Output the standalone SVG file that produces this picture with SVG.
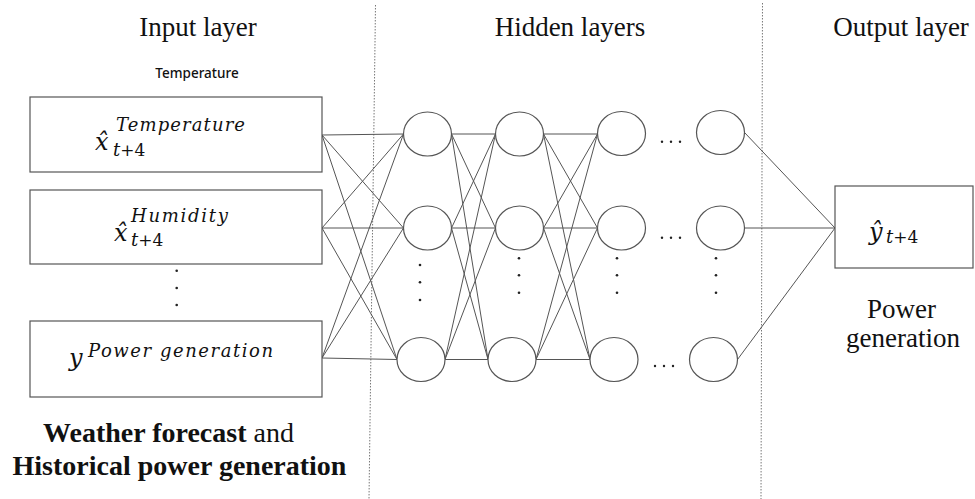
<svg xmlns="http://www.w3.org/2000/svg" width="975" height="499" viewBox="0 0 975 499">
<style>
.hd{font-family:"Liberation Serif","Times New Roman",serif;font-size:27px;fill:#111;text-anchor:middle}
.box{fill:#fff;stroke:#555;stroke-width:1.2}
.nd{fill:#fff;stroke:#555;stroke-width:1.2}
.mm{font-family:"DejaVu Serif","Liberation Serif",serif;font-style:italic;font-size:24px;fill:#111}
.ms{font-family:"DejaVu Serif","Liberation Serif",serif;font-style:italic;font-size:18px;fill:#111}
.mn{font-family:"DejaVu Serif","Liberation Serif",serif;font-style:normal;font-size:17px;fill:#111}
.sep{stroke:#777;stroke-width:1;stroke-dasharray:1.5 1.5;fill:none}
.ed line{stroke:#555;stroke-width:1}
.dot{fill:#222}
</style>

<g id="separators">
<line class="sep" x1="375.5" y1="5" x2="369" y2="499"/>
<line class="sep" x1="762.5" y1="3" x2="761" y2="499"/>
</g>

<g id="titles">
<text class="hd" x="198" y="36">Input layer</text>
<text class="hd" x="570" y="36">Hidden layers</text>
<text class="hd" x="901" y="36">Output layer</text>
<text x="197" y="78" style="font-family:'Noto Sans',sans-serif;font-size:13.5px;font-weight:500;fill:#111;text-anchor:middle">Temperature</text>
</g>

<g id="connectors" class="ed">
<line x1="322" y1="135" x2="403.5" y2="134"/>
<line x1="322" y1="135" x2="403.5" y2="228"/>
<line x1="322" y1="135" x2="397" y2="359.5"/>
<line x1="322" y1="228" x2="403.5" y2="134"/>
<line x1="322" y1="228" x2="403.5" y2="228"/>
<line x1="322" y1="228" x2="397" y2="359.5"/>
<line x1="322" y1="358" x2="403.5" y2="134"/>
<line x1="322" y1="358" x2="403.5" y2="228"/>
<line x1="322" y1="358" x2="397" y2="359.5"/>
<line x1="451.5" y1="134" x2="495.5" y2="134"/>
<line x1="451.5" y1="134" x2="495.5" y2="228"/>
<line x1="451.5" y1="134" x2="488" y2="359.5"/>
<line x1="451.5" y1="228" x2="495.5" y2="134"/>
<line x1="451.5" y1="228" x2="495.5" y2="228"/>
<line x1="451.5" y1="228" x2="488" y2="359.5"/>
<line x1="445" y1="359.5" x2="495.5" y2="134"/>
<line x1="445" y1="359.5" x2="495.5" y2="228"/>
<line x1="445" y1="359.5" x2="488" y2="359.5"/>
<line x1="543.5" y1="134" x2="597.5" y2="134"/>
<line x1="543.5" y1="134" x2="597.5" y2="228"/>
<line x1="543.5" y1="134" x2="590" y2="359.5"/>
<line x1="543.5" y1="228" x2="597.5" y2="134"/>
<line x1="543.5" y1="228" x2="597.5" y2="228"/>
<line x1="543.5" y1="228" x2="590" y2="359.5"/>
<line x1="536" y1="359.5" x2="597.5" y2="134"/>
<line x1="536" y1="359.5" x2="597.5" y2="228"/>
<line x1="536" y1="359.5" x2="590" y2="359.5"/>
<line x1="744.5" y1="132.5" x2="835" y2="228"/>
<line x1="744.5" y1="228" x2="835" y2="228"/>
<line x1="737.5" y1="359.5" x2="835" y2="228"/>
</g>

<g id="in-temperature">
<rect class="box" x="30" y="97" width="292" height="75"/>
<text class="mm" x="95" y="150">x̂</text>
<text class="ms" x="116" y="131" textLength="129" lengthAdjust="spacing">Temperature</text>
<text x="113" y="156"><tspan class="ms">t</tspan><tspan class="mn">+4</tspan></text>
</g>

<g id="in-humidity">
<rect class="box" x="30" y="190" width="292" height="74"/>
<text class="mm" x="114" y="241">x̂</text>
<text class="ms" x="131" y="222" textLength="97" lengthAdjust="spacing">Humidity</text>
<text x="131" y="246"><tspan class="ms">t</tspan><tspan class="mn">+4</tspan></text>
</g>

<g id="in-dots">
<circle class="dot" cx="176.7" cy="270.7" r="1.3"/>
<circle class="dot" cx="176.7" cy="288" r="1.3"/>
<circle class="dot" cx="176.7" cy="305" r="1.3"/>
</g>

<g id="in-power">
<rect class="box" x="30" y="321" width="292" height="76"/>
<text class="mm" x="69" y="366">y</text>
<text class="ms" x="88" y="357" textLength="185" lengthAdjust="spacing">Power generation</text>
</g>

<g id="in-caption">
<text x="168.5" y="442" style="font-family:'Liberation Serif',serif;font-size:28px;fill:#111;text-anchor:middle"><tspan style="font-weight:700">Weather forecast</tspan> and</text>
<text x="179.5" y="475" style="font-family:'Liberation Serif',serif;font-size:28px;font-weight:700;fill:#111;text-anchor:middle">Historical power generation</text>
</g>

<g id="h1">
<ellipse class="nd" cx="427.5" cy="134" rx="24" ry="22"/>
<ellipse class="nd" cx="427.5" cy="228" rx="24" ry="22"/>
<ellipse class="nd" cx="421" cy="359.5" rx="24" ry="22"/>
<circle class="dot" cx="420" cy="265" r="1.3"/>
<circle class="dot" cx="420" cy="282.3" r="1.3"/>
<circle class="dot" cx="420" cy="300" r="1.3"/>
</g>

<g id="h2">
<ellipse class="nd" cx="519.5" cy="134" rx="24" ry="22"/>
<ellipse class="nd" cx="519.5" cy="228" rx="24" ry="22"/>
<ellipse class="nd" cx="512" cy="359.5" rx="24" ry="22"/>
<circle class="dot" cx="519" cy="258.3" r="1.3"/>
<circle class="dot" cx="519" cy="275.3" r="1.3"/>
<circle class="dot" cx="519" cy="292.7" r="1.3"/>
</g>

<g id="h3">
<ellipse class="nd" cx="621.5" cy="133.5" rx="24" ry="22"/>
<ellipse class="nd" cx="621.5" cy="228" rx="24" ry="22"/>
<ellipse class="nd" cx="614" cy="359.5" rx="24" ry="22"/>
<circle class="dot" cx="617" cy="258.3" r="1.3"/>
<circle class="dot" cx="617" cy="275.3" r="1.3"/>
<circle class="dot" cx="617" cy="292.7" r="1.3"/>
</g>

<g id="h-ellipsis">
<circle class="dot" cx="662" cy="141.7" r="1.2"/>
<circle class="dot" cx="671" cy="141.7" r="1.2"/>
<circle class="dot" cx="680" cy="141.7" r="1.2"/>
<circle class="dot" cx="662" cy="237.7" r="1.2"/>
<circle class="dot" cx="671" cy="237.7" r="1.2"/>
<circle class="dot" cx="680" cy="237.7" r="1.2"/>
<circle class="dot" cx="655" cy="366" r="1.2"/>
<circle class="dot" cx="664" cy="366" r="1.2"/>
<circle class="dot" cx="673" cy="366" r="1.2"/>
</g>

<g id="h4">
<ellipse class="nd" cx="720.5" cy="132.5" rx="24" ry="22"/>
<ellipse class="nd" cx="720.5" cy="228" rx="24" ry="22"/>
<ellipse class="nd" cx="713.5" cy="359.5" rx="24" ry="22"/>
<circle class="dot" cx="716" cy="258.3" r="1.3"/>
<circle class="dot" cx="716" cy="275.3" r="1.3"/>
<circle class="dot" cx="716" cy="292.7" r="1.3"/>
</g>

<g id="output">
<rect class="box" x="835" y="186" width="138" height="82"/>
<text class="mm" x="869" y="240">ŷ</text>
<text x="886" y="243"><tspan class="ms">t</tspan><tspan class="mn">+4</tspan></text>
<text class="hd" x="901.5" y="318">Power</text>
<text class="hd" x="903" y="347">generation</text>
</g>
</svg>
